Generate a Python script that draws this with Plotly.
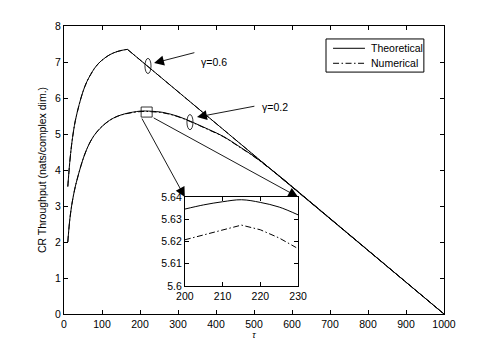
import plotly.graph_objects as go

# ---- data ----
tau_g06 = [10, 15, 20, 25, 30, 40, 50, 60, 70, 80, 90, 100, 120, 140, 160, 167, 1000]
thr_g06_theo = [3.54, 4.2, 4.7, 5.08, 5.38, 5.82, 6.18, 6.45, 6.65, 6.82, 6.95, 7.05, 7.2, 7.29, 7.34, 7.35, 0.0]
thr_g06_num = [3.54, 4.2, 4.7, 5.08, 5.38, 5.82, 6.18, 6.45, 6.65, 6.82, 6.95, 7.05, 7.2, 7.29, 7.34, 7.35, 0.0]
peak_g06 = 167

tau_g02 = [10, 15, 20, 25, 30, 40, 50, 60, 70, 80, 90, 100, 120, 140, 160, 180, 200, 214, 230,
           260, 300, 340, 380, 420, 460, 500, 540, 580, 1000]
thr_g02_theo = [2.0, 2.6, 3.0, 3.3, 3.55, 3.95, 4.3, 4.58, 4.8, 4.97, 5.1, 5.21, 5.38, 5.49, 5.56, 5.605,
                5.635, 5.639, 5.632, 5.6, 5.49, 5.32, 5.13, 4.93, 4.66, 4.38, 4.06, 3.72, 0.0]
thr_g02_num = [2.0, 2.6, 3.0, 3.3, 3.55, 3.95, 4.3, 4.58, 4.8, 4.97, 5.1, 5.21, 5.38, 5.49, 5.555, 5.595,
               5.621, 5.627, 5.618, 5.59, 5.48, 5.31, 5.12, 4.92, 4.65, 4.37, 4.05, 3.72, 0.0]
merge_g02 = 580

tau_zoom = [200, 205, 210, 215, 220, 225, 230]
theo_zoom = [5.6346, 5.6365, 5.6379, 5.6388, 5.6376, 5.6355, 5.6320]
tau_zoom_num = [200, 205, 210, 215, 220, 225, 229.5]
num_zoom = [5.6208, 5.6230, 5.6253, 5.6274, 5.6253, 5.6216, 5.6173]

x_ticks = [0, 100, 200, 300, 400, 500, 600, 700, 800, 900, 1000]
y_ticks = [0, 1, 2, 3, 4, 5, 6, 7, 8]
xz_ticks = [200, 210, 220, 230]
yz_ticks = [5.6, 5.61, 5.62, 5.63, 5.64]
yz_labels = ["5.6", "5.61", "5.62", "5.63", "5.64"]
legend_labels = ["Theoretical", "Numerical"]

FONT = "Liberation Sans, Arial, Helvetica, sans-serif"
FS = 10.5
BLACK = "black"

fig = go.Figure()

solid = dict(color=BLACK, width=1)
DASHDOT = "6px,2.5px,1.5px,2.5px"
dashdot = dict(color=BLACK, width=1, dash=DASHDOT)


def add_curve(tau, vals, split_at, line):
    i = tau.index(split_at)
    fig.add_trace(go.Scatter(x=tau[:i + 1], y=vals[:i + 1], mode="lines",
                             line=dict(shape="spline", smoothing=1.0, **line), showlegend=False))
    fig.add_trace(go.Scatter(x=tau[i:], y=vals[i:], mode="lines",
                             line=dict(shape="linear", **line), showlegend=False))


add_curve(tau_g06, thr_g06_theo, peak_g06, solid)
add_curve(tau_g02, thr_g02_theo, merge_g02, solid)
add_curve(tau_g06, thr_g06_num, peak_g06, dashdot)
add_curve(tau_g02, thr_g02_num, merge_g02, dashdot)

# inset
fig.add_trace(go.Scatter(x=tau_zoom, y=theo_zoom, mode="lines",
                         line=dict(shape="spline", **solid),
                         xaxis="x2", yaxis="y2", showlegend=False))
fig.add_trace(go.Scatter(x=tau_zoom_num, y=num_zoom, mode="lines", line=dashdot,
                         xaxis="x2", yaxis="y2", showlegend=False))

axis_common = dict(showline=True, linecolor=BLACK, linewidth=1, mirror="ticks",
                   ticks="inside", ticklen=4, tickcolor=BLACK, showgrid=False,
                   zeroline=False, tickfont=dict(family=FONT, size=FS, color=BLACK))

fig.update_layout(
    width=483, height=346, autosize=False,
    margin=dict(l=56, r=47, t=18, b=40, pad=0),
    paper_bgcolor="white", plot_bgcolor="white",
    font=dict(family=FONT, size=FS, color=BLACK),
    xaxis=dict(range=[0, 1000], tickvals=x_ticks, domain=[0, 1],
               title=dict(text="<i>τ</i>", standoff=2, font=dict(size=9)), **axis_common),
    yaxis=dict(range=[0, 8], tickvals=y_ticks, domain=[0, 1],
               title=dict(text="CR Throughput (nats/complex dim.)", standoff=6,
                          font=dict(size=FS)), **axis_common),
    xaxis2=dict(range=[200, 230], tickvals=xz_ticks, domain=[0.318, 0.616], anchor="y2",
                **axis_common),
    yaxis2=dict(range=[5.6, 5.64], tickvals=yz_ticks, ticktext=yz_labels,
                domain=[0.097, 0.406], anchor="x2", **axis_common),
    showlegend=False,
)

shape_line = dict(color=BLACK, width=0.8)
fig.add_shape(type="circle", xref="x", yref="y", x0=213, x1=229, y0=6.68, y1=7.1, line=shape_line)
fig.add_shape(type="circle", xref="x", yref="y", x0=323.5, x1=339.5, y0=5.12, y1=5.54, line=shape_line)
fig.add_shape(type="rect", xref="x", yref="y", x0=203, x1=232, y0=5.47, y1=5.75, line=shape_line)

# legend box (drawn manually for exact MATLAB-like sizing)
fig.add_shape(type="rect", xref="paper", yref="paper", x0=0.6895, x1=0.947, y0=0.840, y1=0.955,
              line=dict(color=BLACK, width=1), fillcolor="white")
legend_y = [0.9226, 0.8705]
legend_dash = ["solid", DASHDOT]
for lab, ly, dsh in zip(legend_labels, legend_y, legend_dash):
    fig.add_shape(type="line", xref="paper", yref="paper", x0=0.708, x1=0.792, y0=ly, y1=ly,
                  line=dict(color=BLACK, width=1, dash=dsh))
    fig.add_annotation(x=0.8026, y=ly, xref="paper", yref="paper", text=lab, showarrow=False,
                       xanchor="left", yanchor="middle",
                       font=dict(family=FONT, size=FS, color=BLACK))


def arrow(x, y, ax, ay):
    fig.add_annotation(x=x, y=y, ax=ax, ay=ay, xref="x", yref="y", axref="x", ayref="y",
                       text="", showarrow=True, arrowhead=2, arrowsize=2.2, arrowwidth=0.9,
                       arrowcolor=BLACK, standoff=0, startstandoff=0)


arrow(237, 6.97, 347, 7.27)
arrow(350, 5.47, 505, 5.78)
arrow(318, 3.25, 203, 5.47)
arrow(616, 3.25, 232, 5.47)

fig.add_annotation(x=396, y=7.0, xref="x", yref="y", text="γ=0.6", showarrow=False,
                   font=dict(family=FONT, size=FS, color=BLACK))
fig.add_annotation(x=556, y=5.75, xref="x", yref="y", text="γ=0.2", showarrow=False,
                   font=dict(family=FONT, size=FS, color=BLACK))

fig.write_html("out.html")
